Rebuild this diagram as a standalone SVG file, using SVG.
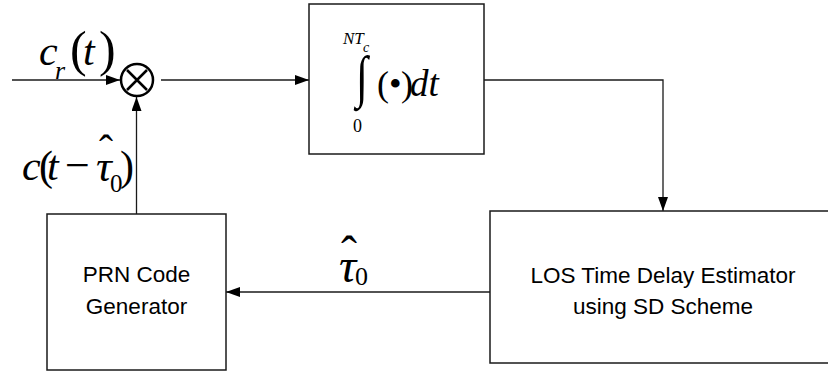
<svg xmlns="http://www.w3.org/2000/svg" width="828" height="374" viewBox="0 0 828 374">
  <style>
    .box { fill: #ffffff; stroke: #1a1a1a; stroke-width: 1.5; }
    .wire { fill: none; stroke: #1a1a1a; stroke-width: 1.3; }
    .lbl { font-family: "Liberation Sans", Arial, sans-serif; font-size: 22.5px; fill: #000; text-anchor: middle; }
    .m { font-family: "Liberation Serif", "Times New Roman", serif; fill: #000; }
    .it { font-style: italic; }
  </style>
  <defs>
    <marker id="arrow" viewBox="0 0 14 10" refX="14" refY="5" markerWidth="14" markerHeight="10" markerUnits="userSpaceOnUse" orient="auto">
      <path d="M0,0 L14,5 L0,10 Z" fill="#000"/>
    </marker>
  </defs>

  <rect width="828" height="374" fill="#ffffff"/>

  <!-- connectors -->
  <g id="connectors">
    <line class="wire" x1="12" y1="80" x2="120" y2="80" marker-end="url(#arrow)"/>
    <line class="wire" x1="161" y1="80" x2="309" y2="80" marker-end="url(#arrow)"/>
    <polyline class="wire" points="484,80 663,80 663,211" marker-end="url(#arrow)"/>
    <line class="wire" x1="490" y1="292" x2="226" y2="292" marker-end="url(#arrow)"/>
    <line class="wire" x1="136.5" y1="214" x2="136.5" y2="97" marker-end="url(#arrow)"/>
  </g>

  <!-- multiplier -->
  <g id="mixer">
    <circle cx="137" cy="80" r="16" fill="#fff" stroke="#000" stroke-width="2.5"/>
    <path d="M127,70 L147,90 M147,70 L127,90" stroke="#000" stroke-width="2.5" fill="none"/>
  </g>

  <!-- integrator -->
  <g id="integrator">
    <rect class="box" x="309" y="4" width="175" height="150"/>
    <text class="m it" x="343" y="44" font-size="17">NT</text>
    <text class="m it" x="363" y="52" font-size="14">c</text>
    <text class="m" font-size="48" transform="translate(356,96) scale(0.9,1.2)">∫</text>
    <text class="m" x="353" y="132" font-size="18">0</text>
    <text class="m" x="377" y="96" font-size="36">(</text>
    <text class="m" x="389" y="96" font-size="36">•</text>
    <text class="m" x="401" y="96" font-size="36">)</text>
    <text class="m it" x="410" y="96" font-size="37">dt</text>
  </g>

  <!-- delay estimator -->
  <g id="estimator">
    <rect class="box" x="490" y="211" width="346" height="152"/>
    <text class="lbl" x="663" y="283">LOS Time Delay Estimator</text>
    <text class="lbl" x="663" y="314">using SD Scheme</text>
  </g>

  <!-- code generator -->
  <g id="prn">
    <rect class="box" x="47" y="214" width="179" height="156"/>
    <text class="lbl" x="136.5" y="282">PRN Code</text>
    <text class="lbl" x="136.5" y="314">Generator</text>
  </g>

  <!-- signal labels -->
  <g id="labels">
    <text class="m it" x="39" y="65" font-size="42">c</text>
    <text class="m it" x="55" y="79" font-size="26">r</text>
    <text class="m" x="70" y="66" font-size="50">(</text>
    <text class="m it" x="83" y="65" font-size="42">t</text>
    <text class="m" x="99" y="66" font-size="50">)</text>

    <text class="m it" x="22" y="180" font-size="42">c</text>
    <text class="m" x="39" y="180" font-size="42">(</text>
    <text class="m it" x="47" y="180" font-size="42">t</text>
    <text class="m" x="65" y="180" font-size="44">−</text>
    <text class="m it" x="96" y="181" font-size="44">τ</text>
    <text class="m" x="99" y="164" font-size="42">ˆ</text>
    <text class="m" x="110" y="192" font-size="25">0</text>
    <text class="m" x="120" y="180" font-size="42">)</text>

    <text class="m it" x="339" y="282" font-size="48">τ</text>
    <text class="m" x="341" y="270" font-size="48">ˆ</text>
    <text class="m" x="355" y="285" font-size="26">0</text>
  </g>
</svg>
